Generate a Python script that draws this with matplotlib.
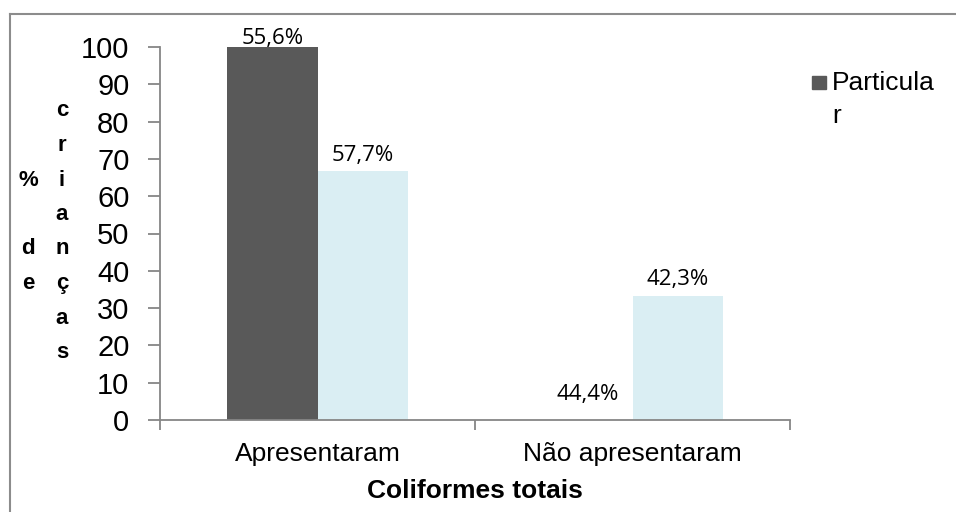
import numpy as np
import matplotlib
matplotlib.use("Agg")
import matplotlib.pyplot as plt
from matplotlib.lines import Line2D
from matplotlib.patches import Rectangle

# Data
categories = ["Apresentaram", "Não apresentaram"]
particular = [100, 0]
other = [66.7, 33.3]
particularLabels = ["55,6%", "44,4%"]
otherLabels = ["57,7%", "42,3%"]
yTicks = [0, 10, 20, 30, 40, 50, 60, 70, 80, 90, 100]
legendLabel = "Particula\nr"

darkCol = "#595959"
lightCol = "#DAEEF3"
axisCol = "#868686"

W, H = 956, 512
fig = plt.figure(figsize=(W / 100, H / 100), dpi=100)
ax = fig.add_axes([160 / W, (H - 420) / H, 630 / W, 373 / H])

x = np.arange(len(categories))
bw = 0.286
b1 = ax.bar(x - bw / 2, particular, bw, color=darkCol)
b2 = ax.bar(x + bw / 2, other, bw, color=lightCol)

for rect, lab in zip(b1, particularLabels):
    h = rect.get_height()
    # label pushed down when the bar reaches the top of the axis
    yl = h - 0.5 if h >= 100 else h + 4
    ax.text(rect.get_x() + rect.get_width() / 2, yl, lab,
            ha="center", va="bottom", fontsize=16, family="Open Sans")
for rect, lab in zip(b2, otherLabels):
    ax.text(rect.get_x() + rect.get_width() / 2, rect.get_height() + 1.5, lab,
            ha="center", va="bottom", fontsize=16, family="Open Sans")

ax.set_xlim(-0.5, 1.5)
ax.set_ylim(0, 100)
ax.set_yticks(yTicks)
ax.set_yticklabels([str(v) for v in yTicks], fontsize=21, family="Liberation Sans")
ax.set_xticks([-0.5, 0.5, 1.5])
ax.set_xticklabels([])
ax.set_xticks(x, minor=True)
ax.set_xticklabels(categories, minor=True, fontsize=19, family="Liberation Sans")
ax.tick_params(axis="x", which="minor", length=0, pad=16)
ax.tick_params(axis="x", which="major", length=7, color=axisCol, width=1.3)
ax.tick_params(axis="y", length=9, color=axisCol, width=1.3, pad=13)
for s in ["top", "right"]:
    ax.spines[s].set_visible(False)
for s in ["left", "bottom"]:
    ax.spines[s].set_color(axisCol)
    ax.spines[s].set_linewidth(1.3)

fig.text(475 / W, 1 - 491 / H, "Coliformes totais", ha="center", va="center",
         fontsize=19, fontweight="bold", family="Liberation Sans")

# stacked y label
col1 = ["%", "", "d", "e"]
col2 = list("crianças")
dy = 34.5
for i, ch in enumerate(col1):
    fig.text(28 / W, 1 - (180 + i * dy) / H, ch, ha="center", va="center",
             fontsize=16, fontweight="bold", family="Liberation Sans")
for i, ch in enumerate(col2):
    fig.text(62 / W, 1 - (111 + i * dy) / H, ch, ha="center", va="center",
             fontsize=16, fontweight="bold", family="Liberation Sans")

# legend
fig.add_artist(Rectangle((812 / W, 1 - 89 / H), 14 / W, 13 / H, color=darkCol,
                         transform=fig.transFigure))
fig.text(832 / W, 1 - 71 / H, legendLabel, ha="left", va="top", fontsize=19,
         family="Liberation Sans", linespacing=1.45)

# chart area border (top and left only visible)
fig.add_artist(Line2D([10 / W, 10 / W], [0, 1 - 14 / H], color="#8c8c8c", lw=1.5))
fig.add_artist(Line2D([10 / W, 1], [1 - 14 / H, 1 - 14 / H], color="#8c8c8c", lw=1.5))

fig.savefig("out.png", dpi=100)
